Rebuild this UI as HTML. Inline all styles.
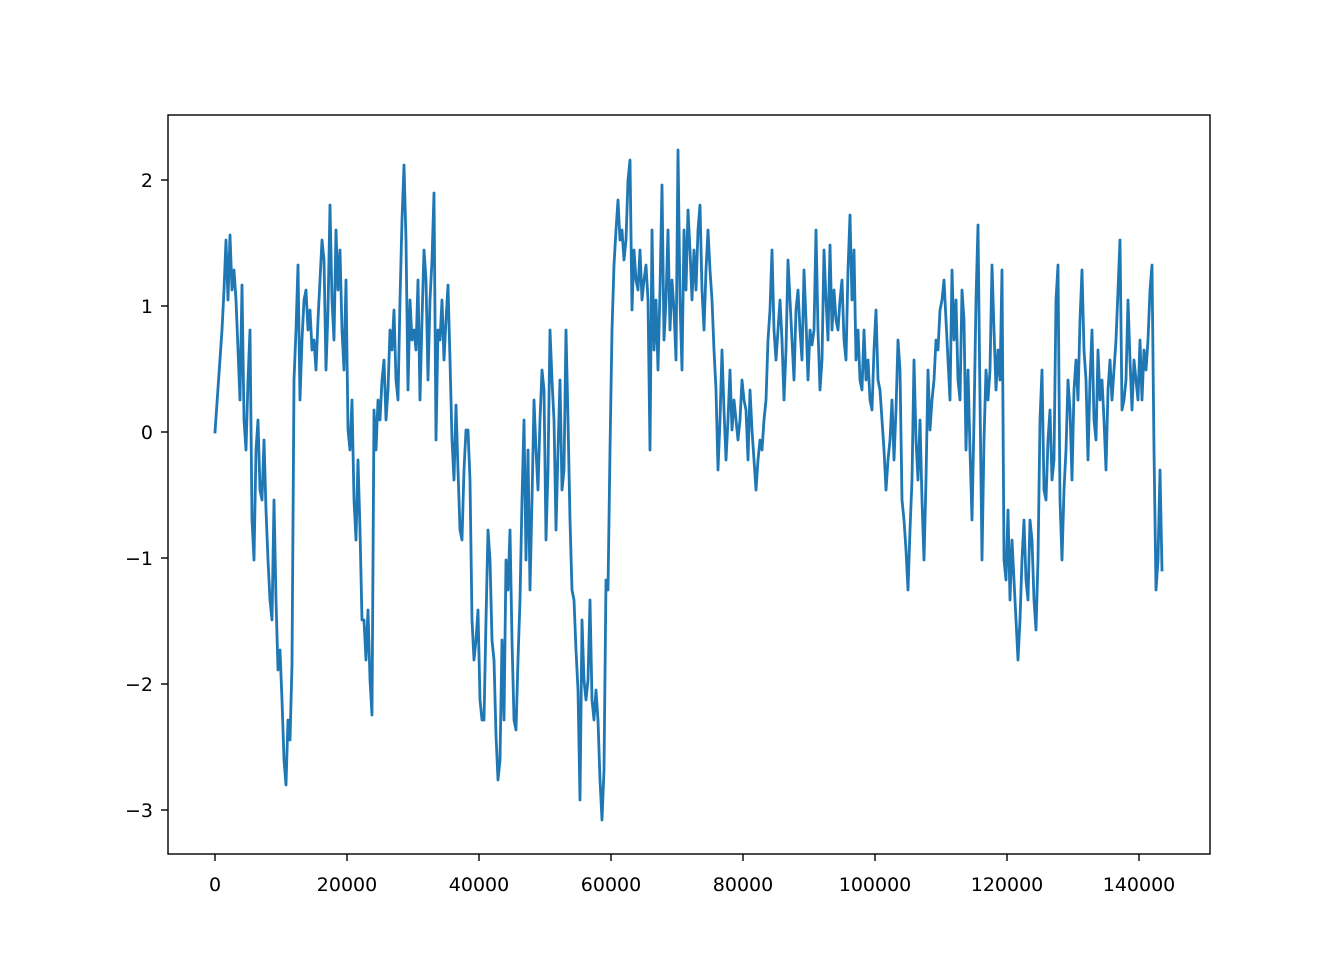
<!DOCTYPE html>
<html><head><meta charset="utf-8"><style>
html,body{margin:0;padding:0;background:#fff;}
svg{display:block;}
text{font-family:"DejaVu Sans","Liberation Sans",sans-serif;font-size:19px;fill:#000;}
</style></head><body>
<svg width="1344" height="960" viewBox="0 0 1344 960" xmlns="http://www.w3.org/2000/svg">
<rect width="1344" height="960" fill="#fff"/>
<polyline fill="none" stroke="#1f77b4" stroke-width="2.8" stroke-linejoin="round" stroke-linecap="square" points="
215,432 222,330 224,290 226,240 228,300 230,235 232,290 234,270 236,300 238,350 240,400 242,285 244,420 246,450 248,380 250,330 252,520 254,560 256,450 258,420 260,490 262,500 264,440 266,510 268,560 270,600 272,620 274,500 276,600 278,670 280,650 282,700 284,760 286,785 288,720 290,740 292,665 294,380 296,330 298,265 300,400 302,340 304,300 306,290 308,330 310,310 312,350 314,340 316,370 318,320 320,280 322,240 324,260 326,370 328,310 330,205 332,300 334,340 336,230 338,290 340,250 342,330 344,370 346,280 348,430 350,450 352,400 354,500 356,540 358,460 360,530 362,620 364,620 366,660 368,610 370,680 372,715 374,410 376,450 378,400 380,420 382,380 384,360 386,420 388,390 390,330 392,350 394,310 396,380 398,400 400,300 402,220 404,165 406,240 408,390 410,300 412,340 414,330 416,350 418,280 420,400 422,320 424,250 426,280 428,380 430,300 432,260 434,193 436,440 438,330 440,340 442,300 444,360 446,320 448,285 450,360 452,440 454,480 456,405 458,470 460,530 462,540 464,470 466,430 468,430 470,480 472,620 474,660 476,640 478,610 480,700 482,720 484,720 486,620 488,530 490,560 492,640 494,660 496,735 498,780 500,760 502,640 504,720 506,560 508,590 510,530 512,640 514,720 516,730 518,660 520,600 522,500 524,420 526,560 528,450 530,590 532,500 534,400 536,450 538,490 540,420 542,370 544,390 546,540 548,470 550,330 552,380 554,420 556,530 558,450 560,380 562,490 564,470 566,330 568,420 570,520 572,590 574,600 576,650 578,690 580,800 582,620 584,680 586,700 588,680 590,600 592,700 594,720 596,690 598,720 600,780 602,820 604,770 606,580 608,590 610,450 612,330 614,265 616,230 618,200 620,240 622,230 624,260 626,240 628,180 630,160 632,310 634,250 636,280 638,290 640,250 642,300 644,280 646,265 648,300 650,450 652,230 654,350 656,300 658,370 660,290 662,185 664,340 666,300 668,230 670,330 672,280 674,310 676,360 678,150 680,300 682,370 684,230 686,290 688,210 690,250 692,300 694,250 696,290 698,230 700,205 702,290 704,330 706,270 708,230 710,270 712,300 714,350 716,390 718,470 720,420 722,350 724,410 726,460 728,420 730,370 732,430 734,400 736,420 738,440 740,420 742,380 744,400 746,410 748,460 750,390 752,430 754,460 756,490 758,460 760,440 762,450 764,420 766,400 768,340 770,310 772,250 774,330 776,360 778,330 780,300 782,340 784,400 786,350 788,260 790,300 792,340 794,380 796,310 798,290 800,330 802,360 804,270 806,320 808,380 810,330 812,345 814,330 816,230 818,330 820,390 822,360 824,250 826,300 828,340 830,245 832,330 834,290 836,320 838,330 840,300 842,280 844,340 846,360 848,270 850,215 852,300 854,250 856,360 858,330 860,380 862,390 864,330 866,380 868,360 870,400 872,410 874,350 876,310 878,380 880,390 882,420 884,450 886,490 888,460 890,440 892,400 894,460 896,410 898,340 900,370 902,500 904,520 906,550 908,590 910,530 912,480 914,360 916,440 918,480 920,420 922,500 924,560 926,480 928,370 930,430 932,400 934,380 936,340 938,350 940,310 942,300 944,280 946,320 948,360 950,400 952,270 954,340 956,300 958,380 960,400 962,290 964,320 966,450 968,370 970,450 972,520 974,420 976,300 978,225 980,400 982,560 984,440 986,370 988,400 990,370 992,265 994,330 996,390 998,350 1000,380 1002,270 1004,560 1006,580 1008,510 1010,600 1012,540 1014,580 1016,620 1018,660 1020,620 1022,560 1024,520 1026,580 1028,600 1030,520 1032,540 1034,600 1036,630 1038,560 1040,420 1042,370 1044,490 1046,500 1048,440 1050,410 1052,480 1054,460 1056,300 1058,265 1060,500 1062,560 1064,490 1066,450 1068,380 1070,410 1072,480 1074,390 1076,360 1078,400 1080,320 1082,270 1084,350 1086,380 1088,460 1090,380 1092,330 1094,420 1096,440 1098,350 1100,400 1102,380 1104,420 1106,470 1108,390 1110,360 1112,400 1114,370 1116,340 1118,290 1120,240 1122,410 1124,400 1126,380 1128,300 1130,360 1132,410 1134,360 1136,380 1138,400 1140,340 1142,400 1144,350 1146,370 1148,340 1150,290 1152,265 1154,450 1156,590 1158,560 1160,470 1162,570"/>
<rect x="168" y="115" width="1042" height="739" fill="none" stroke="#000" stroke-width="1.4"/>
<g stroke="#000" stroke-width="1.4">
<line x1="215" y1="854" x2="215" y2="861"/>
<line x1="347" y1="854" x2="347" y2="861"/>
<line x1="479" y1="854" x2="479" y2="861"/>
<line x1="611" y1="854" x2="611" y2="861"/>
<line x1="743" y1="854" x2="743" y2="861"/>
<line x1="875" y1="854" x2="875" y2="861"/>
<line x1="1007" y1="854" x2="1007" y2="861"/>
<line x1="1139" y1="854" x2="1139" y2="861"/>
<line x1="161" y1="180" x2="168" y2="180"/>
<line x1="161" y1="306" x2="168" y2="306"/>
<line x1="161" y1="432" x2="168" y2="432"/>
<line x1="161" y1="558" x2="168" y2="558"/>
<line x1="161" y1="684" x2="168" y2="684"/>
<line x1="161" y1="810" x2="168" y2="810"/>
</g>
<g text-anchor="middle">
<text x="215" y="891">0</text>
<text x="347" y="891">20000</text>
<text x="479" y="891">40000</text>
<text x="611" y="891">60000</text>
<text x="743" y="891">80000</text>
<text x="875" y="891">100000</text>
<text x="1007" y="891">120000</text>
<text x="1139" y="891">140000</text>
</g>
<g text-anchor="end">
<text x="153" y="187">2</text>
<text x="153" y="313">1</text>
<text x="153" y="439">0</text>
<text x="153" y="565">−1</text>
<text x="153" y="691">−2</text>
<text x="153" y="817">−3</text>
</g>
</svg>
</body></html>
